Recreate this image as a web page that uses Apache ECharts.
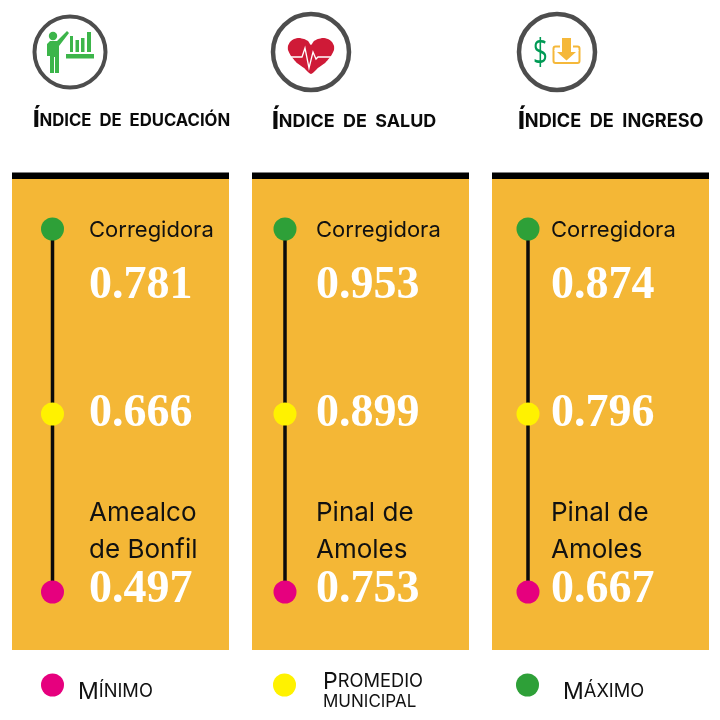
<!DOCTYPE html>
<html><head><meta charset="utf-8">
<style>html,body{margin:0;padding:0;background:#fff}#c{width:720px;height:720px}</style>
<script src="https://cdn.jsdelivr.net/npm/echarts@6/dist/echarts.min.js"></script>
</head><body><div id="c"></div>
<script>
// ---- data ----
const stops = ['Máximo', 'Promedio municipal', 'Mínimo'];
const panels = ['Índice de educación', 'Índice de salud', 'Índice de ingreso'];
const educacion = [0.781, 0.666, 0.497];
const salud = [0.953, 0.899, 0.753];
const ingreso = [0.874, 0.796, 0.667];
const lugaresEducacion = ['Corregidora', '', 'Amealco\nde Bonfil'];
const lugaresSalud = ['Corregidora', '', 'Pinal de\nAmoles'];
const lugaresIngreso = ['Corregidora', '', 'Pinal de\nAmoles'];
const headingCaps = [['Í', 'NDICE  DE  EDUCACIÓN'], ['Í', 'NDICE  DE  SALUD'], ['Í', 'NDICE  DE  INGRESO']];

// ---- layout / style ----
const values = [educacion, salud, ingreso];
const lugares = [lugaresEducacion, lugaresSalud, lugaresIngreso];
const stopColors = ['#2ea038', '#fff200', '#e6007e'];
const panelX = [12, 252, 492];
const panelW = 217;
const dotX = [52.5, 285, 528];
const textX = [89, 316, 551];
const headX = [33, 272, 518];
const headY = [109, 110, 110];
const headSize = [16.7, 17.9, 18.1];
const capSize = [23, 24, 24];
const dotR = 11.5;
const valueOffsetY = [57, 4, -2];
const nameOffsetY = [1, 0, -60.5];
const avgNudge = 3.5;
const sans = 'Inter';
const serif = '"Liberation Serif"';

const grids = [], xAxes = [], yAxes = [], series = [];
panels.forEach((p, i) => {
  grids.push({left: dotX[i] - 20, width: 40, top: 229, height: 363});
  xAxes.push({gridIndex: i, type: 'category', data: [p], show: false});
  yAxes.push({gridIndex: i, type: 'category', data: stops, inverse: true, boundaryGap: false, show: false});
  series.push({
    type: 'line', name: p + ' rango', xAxisIndex: i, yAxisIndex: i, z: 2,
    symbol: 'none', lineStyle: {color: '#0b0b0b', width: 3.5},
    data: stops.map(s => [p, s]), silent: true
  });
  stops.forEach((s, k) => {
    series.push({
      type: 'scatter', name: s, xAxisIndex: i, yAxisIndex: i, z: 3,
      symbol: 'circle', symbolSize: dotR * 2, symbolOffset: [0, k === 1 ? avgNudge : 0],
      itemStyle: {color: stopColors[k], opacity: 1},
      label: {
        show: true, position: 'right', distance: textX[i] - dotX[i] - dotR,
        offset: [0, valueOffsetY[k] - (k === 1 ? avgNudge : 0)],
        formatter: () => values[i][k].toFixed(3),
        color: '#fff', fontFamily: serif, fontWeight: 'bold', fontSize: 46
      },
      data: [[p, s]]
    });
    if (lugares[i][k]) {
      series.push({
        type: 'scatter', name: s + ' lugar', xAxisIndex: i, yAxisIndex: i, z: 3,
        symbol: 'circle', symbolSize: dotR * 2, itemStyle: {color: 'rgba(0,0,0,0)', opacity: 1},
        label: {
          show: true, position: 'right', distance: textX[i] - dotX[i] - dotR,
          offset: [0, nameOffsetY[k]],
          formatter: () => lugares[i][k],
          color: '#111', fontFamily: sans, fontSize: k === 0 ? 22 : 26, lineHeight: 37
        },
        data: [[p, s]]
      });
    }
  });
});

const titles = panels.map((p, i) => ({
  left: headX[i], top: headY[i], padding: 0,
  text: '{c|' + headingCaps[i][0] + '}{s|' + headingCaps[i][1] + '}',
  textStyle: {rich: {
    c: {fontFamily: sans, fontWeight: 800, fontSize: capSize[i], color: '#0a0a0a'},
    s: {fontFamily: sans, fontWeight: 700, fontSize: headSize[i], color: '#0a0a0a'}
  }}
}));

const capRich = {
  c: {fontFamily: sans, fontSize: 23, color: '#111'},
  s: {fontFamily: sans, fontSize: 18.3, color: '#111'},
  t: {fontFamily: sans, fontSize: 17, color: '#111'}
};
const legendFormat = {
  'Mínimo': '{c|M}{s|ÍNIMO}',
  'Promedio municipal': '{c|P}{s|ROMEDIO}\n{t|MUNICIPAL}',
  'Máximo': '{c|M}{s|ÁXIMO}'
};
const legendX = [41, 273, 516];
const legendGap = [14, 27, 24];
const legendTop = [668, 658, 668];
const legendOrder = ['Mínimo', 'Promedio municipal', 'Máximo'];
const legends = legendOrder.map((n, i) => ({
  left: legendX[i], top: legendTop[i], padding: 0, icon: 'circle',
  itemWidth: 23, itemHeight: 23, selectedMode: false,
  data: [n], formatter: nm => legendFormat[nm],
  textStyle: {rich: capRich, padding: [14, 0, 0, legendGap[i] - 5], lineHeight: 20}
}));

const ring = (cx, cy, r, w) => ({type: 'circle', shape: {cx, cy, r}, style: {fill: '#fff', stroke: '#4d4d4d', lineWidth: w}});
const green = '#3cb54a', amber = '#f5b83a';
const bar = (x, y, w, h, c) => ({type: 'rect', shape: {x, y, width: w, height: h}, style: {fill: c}});
// heart outline as a list of points for a polygon element
const heartOutline = [[311,74],[304,68],[297,63],[291,56],[288,50],[288,46],[290,42],[294,39],[299,38],[304,39],[308,41],[311,45],[314,41],[318,39],[323,38],[328,39],[332,42],[334,46],[334,50],[331,56],[325,63],[318,68]];

const graphicEls = [];
panelX.forEach(x => {
  graphicEls.push(Object.assign(bar(x, 179, panelW, 471, '#f4b736'), {z: -2}));
  graphicEls.push(Object.assign(bar(x, 172.5, panelW, 6.5, '#000'), {z: -2}));
});
graphicEls.push(
  ring(70, 52, 35.5, 4),
  {type: 'circle', shape: {cx: 53, cy: 36, r: 4.2}, style: {fill: green}},
  {type: 'polygon', shape: {points: [[47,44],[50,41],[57,41],[67,31],[69,33],[59,46],[59,73],[55,73],[55,57],[54,57],[54,73],[50,73],[50,56],[47,56]]}, style: {fill: green}},
  bar(70, 36, 3, 16, green), bar(75.5, 40, 3.5, 12, green), bar(81, 38, 3.5, 14, green), bar(87, 32, 4, 20, green), bar(66, 54, 28, 4.5, green),
  ring(311, 52, 38, 4.5),
  {type: 'polygon', shape: {points: heartOutline, smooth: 0.2}, style: {fill: '#cf1a37'}},
  {type: 'polyline', shape: {points: [[291,57],[302,57],[305,48],[309,68],[313,52],[316,59],[318,57],[331,57]]}, style: {stroke: '#fff', lineWidth: 1.3, fill: 'none'}},
  ring(557, 52, 38, 4.5),
  {type: 'text', x: 540.5, y: 54, scaleX: 0.72, style: {x: 0, y: 0, text: '$', fill: '#009a55', font: '36px "Open Sans"', align: 'center', verticalAlign: 'middle'}},
  {type: 'rect', shape: {x: 553.5, y: 46.5, width: 26, height: 16.5, r: 2}, style: {fill: 'none', stroke: amber, lineWidth: 2}},
  {type: 'polygon', shape: {points: [[560,37],[573,37],[573,50],[579,50],[566.5,62],[554,50],[560,50]]}, style: {fill: '#fff'}},
  {type: 'polygon', shape: {points: [[562,38],[571,38],[571,52],[576,52],[566.5,60.5],[557,52],[562,52]]}, style: {fill: amber}}
);

const chart = echarts.init(document.getElementById('c'), null, {renderer: 'canvas'});
chart.setOption({
  animation: false, backgroundColor: '#fff',
  title: titles, legend: legends, grid: grids, xAxis: xAxes, yAxis: yAxes,
  series, graphic: {elements: graphicEls}
});
</script></body></html>
